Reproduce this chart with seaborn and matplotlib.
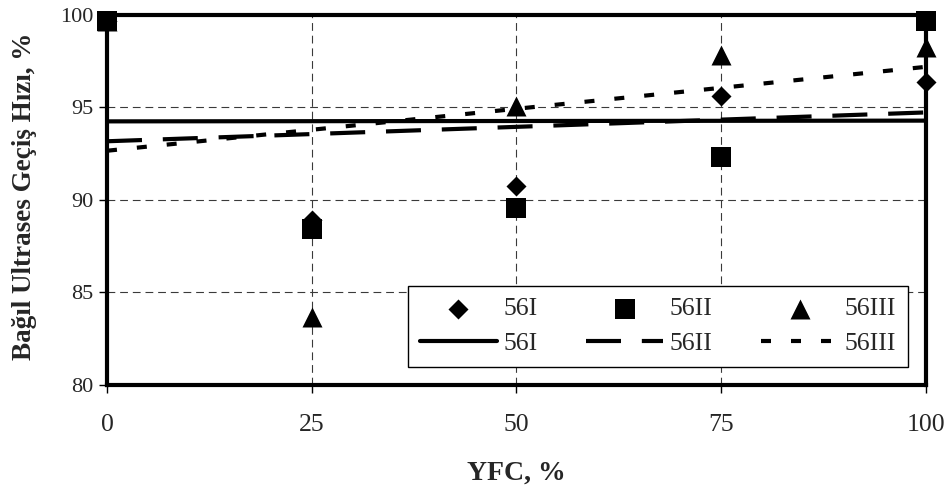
import matplotlib
matplotlib.use("Agg")
import matplotlib.pyplot as plt
import seaborn as sns

# YFC replacement level (%) and relative ultrasonic pulse velocity (%)
yfc = [0, 25, 50, 75, 100]
s56I = [99.7, 88.9, 90.75, 95.6, 96.4]
s56II = [99.7, 88.45, 89.57, 92.35, 99.7]
s56III = [99.7, 83.7, 95.1, 97.86, 98.29]

series_names = ["56I", "56II", "56III"]
x_ticks = [0, 25, 50, 75, 100]
y_ticks = [80, 85, 90, 95, 100]

sns.set_theme(style="white")
plt.rcParams["font.family"] = ["Liberation Serif", "DejaVu Serif"]

fig = plt.figure(figsize=(9.49, 4.90), dpi=100)
ax = fig.add_axes([0.11275, 0.2143, 0.8630, 0.7551])

markers = ["D", "s", "^"]
sizes = [104, 207, 207]
line_styles = [
    "-",
    (0, (8.4, 5.0)),
    (0, (2.4, 4.8)),
]

for name, vals, mk, sz, ls in zip(series_names, [s56I, s56II, s56III],
                                  markers, sizes, line_styles):
    # linear trend line fitted by seaborn
    sns.regplot(x=yfc, y=vals, ax=ax, scatter=False, ci=None, truncate=True,
                label=name,
                line_kws=dict(color="black", lw=3, linestyle=ls,
                              dash_capstyle="butt", zorder=2))
    sns.scatterplot(x=yfc, y=vals, ax=ax, marker=mk, s=sz, color="black",
                    edgecolor="black", linewidth=0, label=name,
                    clip_on=False, zorder=4)

ax.set_xlim(0, 100)
ax.set_ylim(80, 100)
ax.set_xticks(x_ticks)
ax.set_yticks(y_ticks)
ax.tick_params(axis="y", which="major", direction="out", length=6, width=1,
               color="black", labelsize=16, pad=4, left=True)
ax.tick_params(axis="x", which="major", direction="out", length=6, width=1,
               color="black", labelsize=18.5, pad=15, bottom=True)

for sp in ax.spines.values():
    sp.set_visible(True)
    sp.set_color("black")
    sp.set_linewidth(3)
    sp.set_zorder(3)

ax.grid(True, color="#3a3a3a", lw=0.8, linestyle=(0, (7, 4.4)))
ax.set_axisbelow(True)

ax.set_xlabel("YFC, %", fontsize=20, fontweight="bold")
ax.set_ylabel("Bağıl Ultrases Geçiş Hızı, %", fontsize=19.5, fontweight="bold")
ax.xaxis.set_label_coords(0.5, -0.205)
ax.yaxis.set_label_coords(-0.085, 0.511)

# Legend: markers on the first row, trend lines on the second
handles, labels = ax.get_legend_handles_labels()
lines_h = handles[0::2]
marks_h = handles[1::2]
ordered_h, ordered_l = [], []
for m, l, n in zip(marks_h, lines_h, series_names):
    ordered_h += [m, l]
    ordered_l += [n, n]
old = ax.get_legend()
if old is not None:
    old.remove()
leg = ax.legend(ordered_h, ordered_l, ncol=3, loc="upper left",
                bbox_to_anchor=(0.3675, 0.268), borderaxespad=0,
                fontsize=18.5, frameon=True, fancybox=False, shadow=False,
                framealpha=1, edgecolor="black", handlelength=3.0,
                handletextpad=0.25, columnspacing=1.9, labelspacing=0.47,
                borderpad=0.45, scatterpoints=1)
leg.get_frame().set_linewidth(1.0)
leg.set_zorder(5)

fig.savefig("out.png", dpi=100, facecolor="white")
